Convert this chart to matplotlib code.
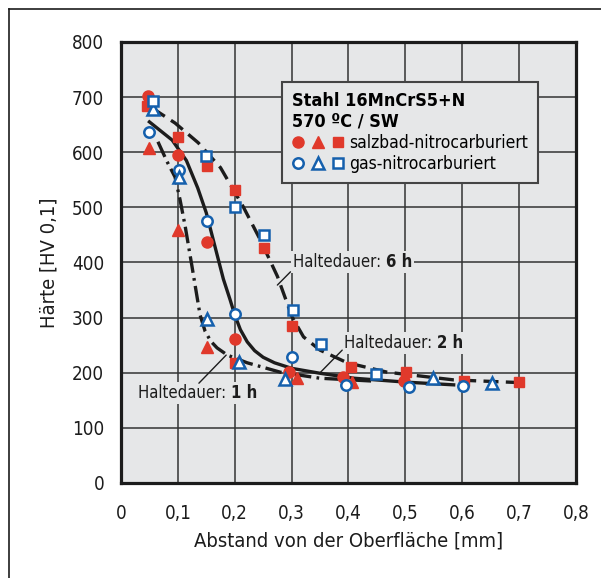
import matplotlib.pyplot as plt
import matplotlib.font_manager as fm
from matplotlib.lines import Line2D
from matplotlib.legend_handler import HandlerTuple

# Schmale Schrift, falls DejaVu Sans Condensed vorhanden ist
schmal = any(f.name == 'DejaVu Sans' and f.stretch == 'condensed'
             for f in fm.fontManager.ttflist)
if schmal:
    plt.rcParams['font.family'] = ['DejaVu Sans']
    plt.rcParams['font.stretch'] = 'condensed'
else:
    plt.rcParams['font.family'] = ['Liberation Sans', 'DejaVu Sans']

# Messwerte salzbad-nitrocarburiert
salz_kreis_x = [0.047, 0.10, 0.152, 0.20, 0.295, 0.39, 0.498]
salz_kreis_y = [702, 595, 437, 261, 201, 192, 185]
salz_dreieck_x = [0.05, 0.10, 0.152, 0.31, 0.407]
salz_dreieck_y = [608, 459, 247, 190, 183]
salz_quadrat_x = [0.045, 0.10, 0.151, 0.20, 0.20, 0.252, 0.301, 0.404, 0.502, 0.603, 0.70]
salz_quadrat_y = [683, 628, 575, 218, 532, 426, 285, 210, 201, 185, 183]

# Messwerte gas-nitrocarburiert
gas_kreis_x = [0.049, 0.102, 0.152, 0.20, 0.301, 0.395, 0.507, 0.601]
gas_kreis_y = [637, 568, 475, 307, 228, 178, 174, 176]
gas_dreieck_x = [0.056, 0.102, 0.152, 0.208, 0.289, 0.548, 0.652]
gas_dreieck_y = [679, 555, 297, 220, 189, 190, 181]
gas_quadrat_x = [0.057, 0.15, 0.20, 0.252, 0.303, 0.351, 0.449]
gas_quadrat_y = [692, 594, 501, 450, 314, 252, 198]

# Ausgleichskurven je Haltedauer
kurve_1h_x = [0.065, 0.081, 0.095, 0.104, 0.113, 0.125, 0.139, 0.148, 0.158, 0.169, 0.187, 0.222, 0.28, 0.35, 0.44]
kurve_1h_y = [619, 583, 555, 513, 465, 392, 305, 275, 257, 245, 232, 218, 201, 190, 185]
kurve_2h_x = [0.05, 0.09, 0.115, 0.135, 0.15, 0.165, 0.18, 0.192, 0.20, 0.21, 0.222, 0.235, 0.25, 0.27, 0.30, 0.35, 0.41, 0.50, 0.585]
kurve_2h_y = [655, 622, 585, 535, 490, 430, 370, 332, 305, 278, 256, 240, 228, 218, 208, 199, 190, 183, 178]
kurve_6h_x = [0.055, 0.095, 0.136, 0.175, 0.215, 0.245, 0.275, 0.301, 0.321, 0.35, 0.398, 0.468, 0.585, 0.703]
kurve_6h_y = [680, 653, 617, 572, 501, 441, 375, 301, 265, 241, 218, 201, 187, 182]

x_ticks = [0, 0.1, 0.2, 0.3, 0.4, 0.5, 0.6, 0.7, 0.8]
x_labels = ['0', '0,1', '0,2', '0,3', '0,4', '0,5', '0,6', '0,7', '0,8']
y_ticks = [0, 100, 200, 300, 400, 500, 600, 700, 800]

rot = '#e0392b'
blau = '#1560ad'
grau = '#e6e7e8'
schwarz = '#1c1c1c'

fs = 13 if schmal else 12.5

fig = plt.figure(figsize=(6.01, 5.78), dpi=100)
ax = fig.add_axes([0.2013, 0.1644, 0.757, 0.763])
ax.set_facecolor(grau)

# Rahmen links und oben um die ganze Abbildung
fig.add_artist(Line2D([0.015, 0.015], [0.0, 0.984], color=schwarz, lw=1.2))
fig.add_artist(Line2D([0.015, 1.0], [0.984, 0.984], color=schwarz, lw=1.2))

ax.set_xlim(0, 0.8)
ax.set_ylim(0, 800)
ax.set_xticks(x_ticks)
ax.set_xticklabels(x_labels)
ax.set_yticks(y_ticks)
ax.tick_params(length=0, labelsize=fs + 0.5, colors=schwarz)
ax.tick_params(axis='x', pad=15)
ax.tick_params(axis='y', pad=12)
ax.grid(True, color='#333333', lw=1.1)
ax.set_axisbelow(True)
for s in ax.spines.values():
    s.set_linewidth(2.3)
    s.set_color(schwarz)

ax.set_xlabel('Abstand von der Oberfläche [mm]', fontsize=fs + 1.5, color=schwarz, labelpad=6)
ax.set_ylabel('Härte [HV 0,1]', fontsize=fs + 1.5, color=schwarz, labelpad=10)

# Kurven
lw = 2.4
ax.plot(kurve_6h_x, kurve_6h_y, color=schwarz, lw=lw, dashes=(4.5, 2.2), zorder=3)
ax.plot(kurve_2h_x, kurve_2h_y, color=schwarz, lw=lw, zorder=3)
ax.plot(kurve_1h_x, kurve_1h_y, color=schwarz, lw=lw, dashes=(5, 1.6, 0.8, 1.6), zorder=3)

# Messpunkte
ms = 8
sk, = ax.plot(salz_kreis_x, salz_kreis_y, 'o', ms=ms, color=rot, mec=rot, zorder=4)
sd, = ax.plot(salz_dreieck_x, salz_dreieck_y, '^', ms=ms + 0.5, color=rot, mec=rot, zorder=4)
sq, = ax.plot(salz_quadrat_x, salz_quadrat_y, 's', ms=ms - 0.5, color=rot, mec=rot, zorder=4)
gk, = ax.plot(gas_kreis_x, gas_kreis_y, 'o', ms=ms - 0.5, mfc='white', mec=blau, mew=1.8, zorder=5)
gd, = ax.plot(gas_dreieck_x, gas_dreieck_y, '^', ms=ms, mfc='white', mec=blau, mew=1.8, zorder=5)
gq, = ax.plot(gas_quadrat_x, gas_quadrat_y, 's', ms=ms - 1, mfc='white', mec=blau, mew=1.8, zorder=5)

leg = ax.legend([(sk, sd, sq), (gk, gd, gq)],
                ['salzbad-nitrocarburiert', 'gas-nitrocarburiert'],
                handler_map={tuple: HandlerTuple(ndivide=None, pad=0.5)},
                title='Stahl 16MnCrS5+N\n570 ºC / SW', alignment='left',
                loc='upper right', bbox_to_anchor=(0.916, 0.909), borderaxespad=0,
                fontsize=fs - 0.5, title_fontproperties={'weight': 'bold', 'size': fs},
                frameon=True, fancybox=False, facecolor=grau, edgecolor='#444444',
                framealpha=1, handlelength=3.0, handletextpad=0.3,
                borderpad=0.55, labelspacing=0.2)
leg.get_frame().set_linewidth(1.5)
leg.set_zorder(6)

# Beschriftung der Kurven
box = dict(facecolor=grau, edgecolor='none', pad=1.5)
fs_h = fs - 1


def haltedauer(x, y, h, ziel_von, ziel_bis):
    t = ax.text(x, y, 'Haltedauer: ', fontsize=fs_h, color=schwarz, va='center',
                bbox=box, zorder=6)
    ax.annotate(h, xy=(1, 0.5), xycoords=t, va='center', ha='left',
                fontsize=fs_h, fontweight='bold', color=schwarz, bbox=box, zorder=6)
    ax.annotate('', xy=ziel_bis, xytext=ziel_von,
                arrowprops=dict(arrowstyle='-', lw=1.0, color=schwarz,
                                shrinkA=0, shrinkB=0), zorder=6)


haltedauer(0.303, 401, '6 h', (0.298, 383), (0.275, 359))
haltedauer(0.393, 254, '2 h', (0.389, 241), (0.351, 201))
haltedauer(0.030, 163, '1 h', (0.137, 181), (0.185, 232))

fig.savefig('out.png', dpi=100)
